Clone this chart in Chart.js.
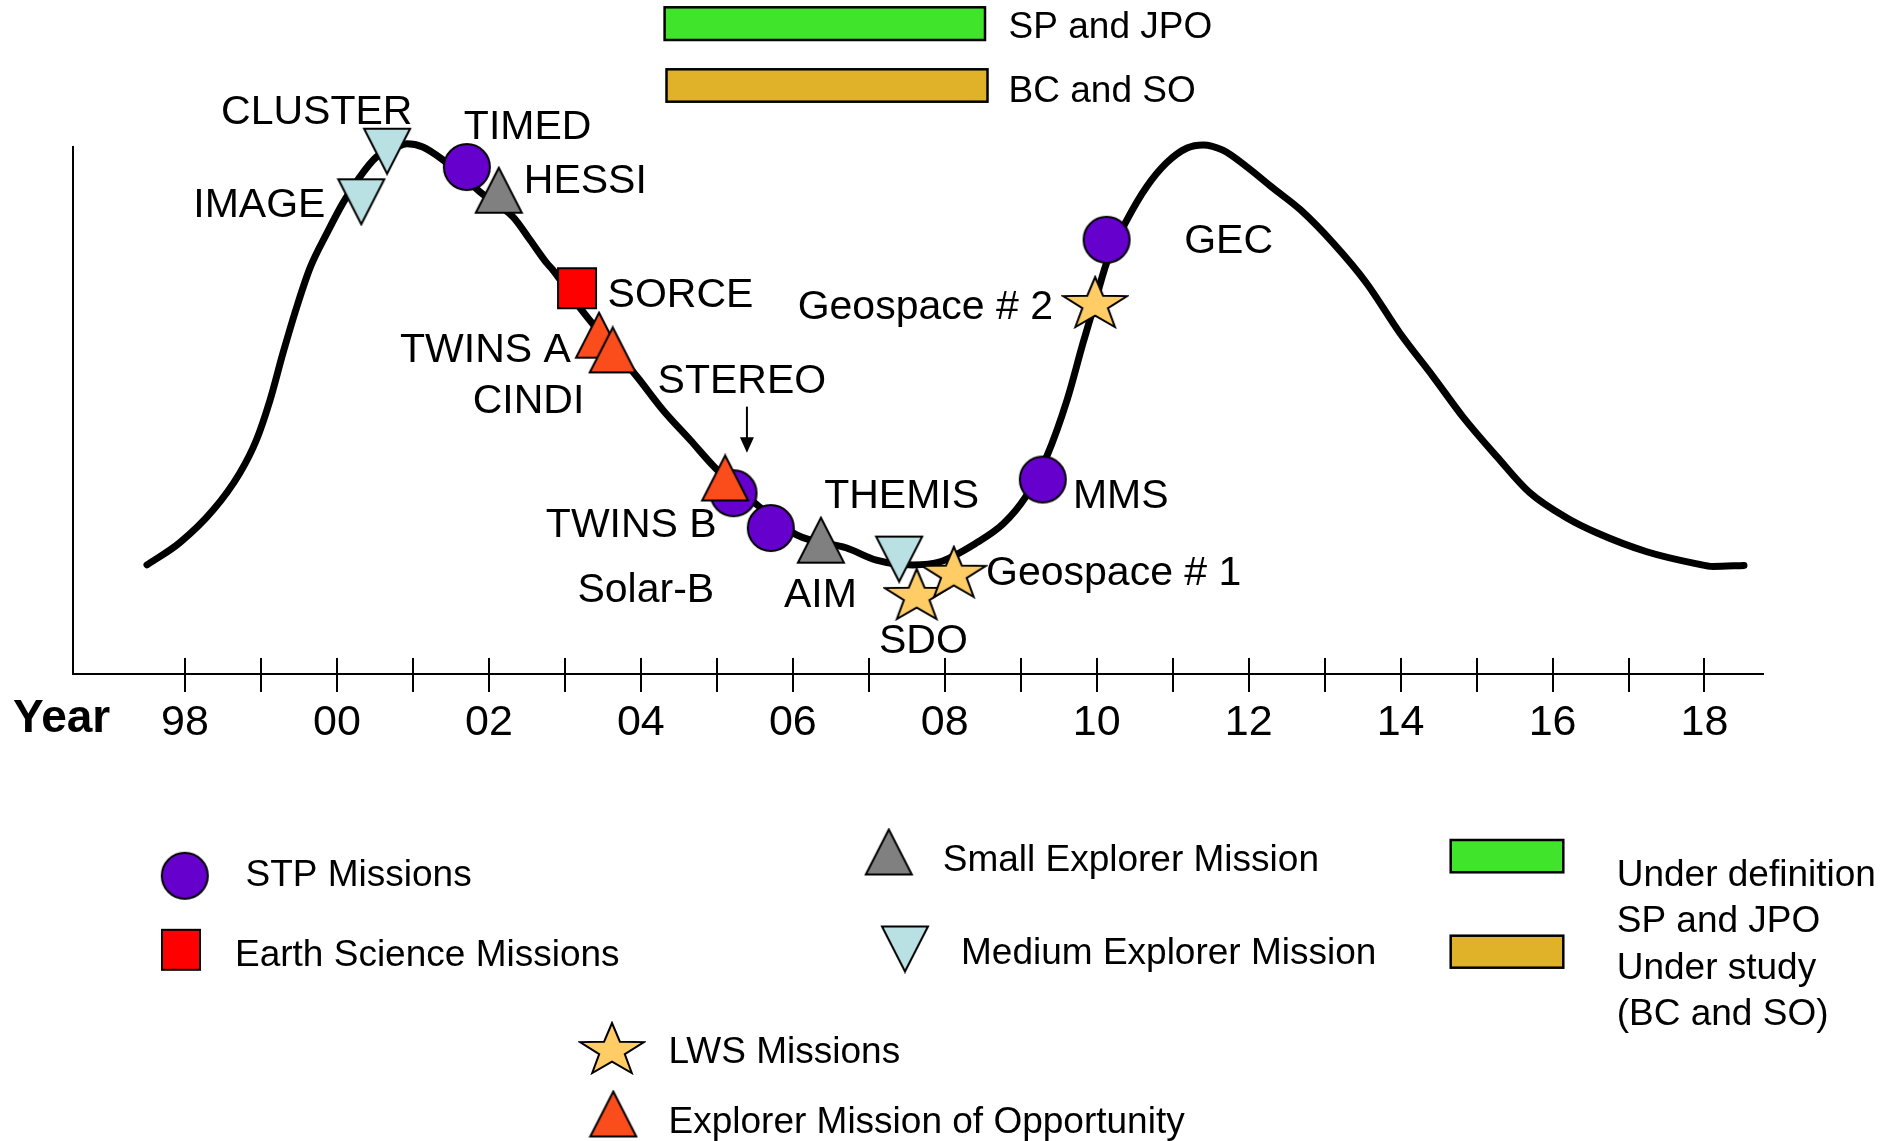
<!DOCTYPE html>
<html>
<head>
<meta charset="utf-8">
<title>Solar cycle and missions</title>
<script src="https://cdn.jsdelivr.net/npm/chart.js@4.4.1/dist/chart.umd.min.js"></script>
<style>
  html, body { margin: 0; padding: 0; background: #fff; }
  #wrap { width: 1898px; height: 1141px; }
</style>
</head>
<body>
<div id="wrap"><canvas id="CycleChart" width="1898" height="1141"></canvas></div>
<script>
// Kurva siklus matahari (tahun, aktivitas relatif 0-100)
const curveYears = [1997.50, 1997.93, 1998.37, 1998.72, 1998.94, 1999.12, 1999.29, 1999.47, 1999.65, 1999.87,
  2000.08, 2000.30, 2000.52, 2000.79, 2000.92, 2001.13, 2001.40, 2001.65, 2001.88, 2002.32,
  2002.54, 2002.76, 2002.84, 2003.24, 2003.95, 2004.29, 2004.65, 2004.98, 2005.53, 2006.05,
  2006.71, 2007.10, 2007.58, 2007.94, 2008.42, 2008.77, 2009.06, 2009.34, 2009.61, 2009.82,
  2009.95, 2010.13, 2010.40, 2010.66, 2010.92, 2011.19, 2011.40, 2011.66, 2011.97, 2012.32,
  2012.68, 2013.11, 2013.55, 2013.99, 2014.43, 2014.82, 2015.27, 2015.70, 2016.19, 2016.58,
  2017.24, 2017.90, 2018.11, 2018.52];
const curveValues = [20.7, 24.9, 31.1, 38.1, 44.4, 52.0, 60.9, 69.6, 77.2, 83.7,
  89.4, 94.3, 98.1, 100.0, 100.6, 100.0, 97.5, 94.5, 91.5, 86.7,
  82.4, 78.0, 76.7, 68.7, 56.4, 50.1, 44.4, 39.1, 32.1, 26.4,
  23.9, 21.6, 20.7, 21.3, 24.9, 28.5, 33.5, 41.2, 52.0, 62.8,
  69.1, 78.0, 86.2, 92.5, 97.0, 99.8, 100.4, 99.4, 96.3, 92.2,
  88.1, 81.8, 74.2, 64.7, 56.4, 48.8, 41.2, 34.4, 29.6, 26.8,
  23.2, 20.9, 20.4, 20.6];

// Misi per kategori
const stpNames = ['TIMED', 'STEREO', 'Solar-B', 'MMS', 'GEC'];
const stpYears = [2001.71, 2005.22, 2005.71, 2009.29, 2010.13];
const stpValues = [96.2, 34.3, 27.7, 36.9, 82.4];

const earthNames = ['SORCE'];
const earthYears = [2003.16];
const earthValues = [73.2];

const smexNames = ['HESSI', 'AIM'];
const smexYears = [2002.13, 2006.37];
const smexValues = [91.8, 25.4];

const midexNames = ['IMAGE', 'CLUSTER', 'THEMIS'];
const midexYears = [2000.32, 2000.66, 2007.40];
const midexValues = [89.6, 99.2, 21.8];

const lwsNames = ['SDO', 'Geospace # 1', 'Geospace # 2'];
const lwsYears = [2007.63, 2008.12, 2009.98];
const lwsValues = [15.2, 19.4, 70.6];

const moNames = ['TWINS A', 'CINDI', 'TWINS B'];
const moYears = [2003.45, 2003.63, 2005.11];
const moValues = [64.3, 61.5, 37.2];

// Sumbu X
const yearTicks = [1998, 1999, 2000, 2001, 2002, 2003, 2004, 2005, 2006, 2007,
  2008, 2009, 2010, 2011, 2012, 2013, 2014, 2015, 2016, 2017, 2018];
const tickLabels = ['98', '', '00', '', '02', '', '04', '', '06', '', '08',
  '', '10', '', '12', '', '14', '', '16', '', '18'];

// Teks legenda
const statusNames = ['SP and JPO', 'BC and SO'];
const legendNames = ['STP Missions', 'Earth Science Missions', 'LWS Missions',
  'Explorer Mission of Opportunity', 'Small Explorer Mission', 'Medium Explorer Mission'];
const statusNotes = ['Under definition', 'SP and JPO', 'Under study', '(BC and SO)'];

const FONT = "'Liberation Sans', Arial, Helvetica, sans-serif";
Chart.defaults.font.family = FONT;
Chart.defaults.color = '#000';

// Bentuk marker (digambar ke canvas kecil, dipakai sebagai pointStyle)
function makeMarker(shape, fill, w, h) {
  const c = document.createElement('canvas');
  c.width = w + 4;
  c.height = h + 4;
  const g = c.getContext('2d');
  const x0 = 2, y0 = 2;
  g.fillStyle = fill;
  g.strokeStyle = '#000';
  g.lineWidth = 2;
  g.beginPath();
  if (shape === 'circle') {
    g.ellipse(x0 + w / 2, y0 + h / 2, w / 2, h / 2, 0, 0, Math.PI * 2);
  } else if (shape === 'square') {
    g.rect(x0, y0, w, h);
  } else if (shape === 'up') {
    g.moveTo(x0 + w / 2, y0);
    g.lineTo(x0 + w, y0 + h);
    g.lineTo(x0, y0 + h);
    g.closePath();
  } else if (shape === 'down') {
    g.moveTo(x0, y0);
    g.lineTo(x0 + w, y0);
    g.lineTo(x0 + w / 2, y0 + h);
    g.closePath();
  } else if (shape === 'star') {
    const R = h / 1.809;
    const sx = (w / 2) / (R * 0.951);
    const cx = x0 + w / 2, cy = y0 + R;
    for (let i = 0; i < 10; i++) {
      const a = -Math.PI / 2 + i * Math.PI / 5;
      const rr = i % 2 === 0 ? R : R * 0.4;
      const px = cx + Math.cos(a) * rr * sx;
      const py = cy + Math.sin(a) * rr;
      if (i === 0) g.moveTo(px, py); else g.lineTo(px, py);
    }
    g.closePath();
  }
  g.fill();
  g.stroke();
  return c;
}

const markers = {
  stp: makeMarker('circle', '#6600cc', 46, 46),
  earth: makeMarker('square', '#ff0000', 38, 40),
  smex: makeMarker('up', '#808080', 46, 45),
  midex: makeMarker('down', '#b9e0e3', 46, 45),
  lws: makeMarker('star', '#ffcc66', 64, 50),
  mo: makeMarker('up', '#fb4c1c', 46, 45)
};

const pts = (xs, ys) => xs.map((x, i) => ({ x: x, y: ys[i] }));

function markerSet(label, names, xs, ys, marker, order) {
  return {
    type: 'scatter',
    label: label,
    names: names,
    data: pts(xs, ys),
    pointStyle: marker,
    pointRadius: 24,
    pointHoverRadius: 24,
    showLine: false,
    clip: false,
    order: order
  };
}

// Posisi teks relatif terhadap marker [dx, dy, align]
const labelPlace = {
  'CLUSTER': [-166, -27.5, 'left'],
  'IMAGE': [-168, 14.7, 'left'],
  'TIMED': [-3, -28, 'left'],
  'HESSI': [25, 3, 'left'],
  'SORCE': [30.6, 19.2, 'left'],
  'TWINS A': [-199, 26.7, 'left'],
  'CINDI': [-140, 63.3, 'left'],
  'STEREO': [-76, -100, 'left'],
  'TWINS B': [-179.3, 58.7, 'left'],
  'Solar-B': [-193.3, 73.7, 'left'],
  'AIM': [-37, 66.4, 'left'],
  'THEMIS': [-75, -51.3, 'left'],
  'SDO': [-37.7, 59.3, 'left'],
  'Geospace # 1': [32.2, 13.3, 'left'],
  'MMS': [30.2, 28.2, 'left'],
  'Geospace # 2': [-297.5, 17.3, 'left'],
  'GEC': [77.6, 13, 'left']
};

function drawBox(c, x, y, w, h, fill) {
  c.fillStyle = fill;
  c.fillRect(x, y, w, h);
  c.strokeStyle = '#000';
  c.lineWidth = 2.5;
  c.strokeRect(x, y, w, h);
}

function drawMarker(c, img, cx, cy) {
  c.drawImage(img, cx - img.width / 2, cy - img.height / 2);
}

// Plugin: label misi, panah, tick atas, legenda
const annotate = {
  id: 'annotate',
  afterDraw(chart) {
    const c = chart.ctx;
    const xs = chart.scales.x;
    const area = chart.chartArea;
    c.save();

    // bagian atas tick sumbu x
    c.strokeStyle = '#000';
    c.lineWidth = 2;
    yearTicks.forEach(v => {
      const px = Math.round(xs.getPixelForValue(v));
      c.beginPath();
      c.moveTo(px, area.bottom);
      c.lineTo(px, area.bottom - 16);
      c.stroke();
    });

    // label tiap misi
    c.fillStyle = '#000';
    c.font = '41px ' + FONT;
    c.textBaseline = 'alphabetic';
    chart.data.datasets.forEach((ds, di) => {
      if (!ds.names) return;
      const meta = chart.getDatasetMeta(di);
      ds.names.forEach((name, i) => {
        const p = meta.data[i];
        const lp = labelPlace[name];
        c.textAlign = lp[2];
        c.fillText(name, p.x + lp[0], p.y + lp[1]);
        if (name === 'STEREO') {
          const ax = p.x + 13.4;
          c.beginPath();
          c.moveTo(ax, p.y - 86.6);
          c.lineTo(ax, p.y - 54);
          c.stroke();
          c.beginPath();
          c.moveTo(ax - 7, p.y - 56);
          c.lineTo(ax + 7, p.y - 56);
          c.lineTo(ax, p.y - 40.6);
          c.closePath();
          c.fill();
        }
      });
    });

    // "Year"
    c.textAlign = 'left';
    c.font = 'bold 46px ' + FONT;
    c.fillText('Year', 13, 731.7);

    // legenda status di atas
    c.font = '37px ' + FONT;
    drawBox(c, 664.6, 7.3, 320.4, 32.7, '#40e42a');
    drawBox(c, 666.5, 69.3, 321, 32.4, '#e0b22a');
    c.fillStyle = '#000';
    c.fillText(statusNames[0], 1008.6, 37.7);
    c.fillText(statusNames[1], 1008.6, 101.7);

    // legenda bawah
    drawMarker(c, markers.stp, 184.8, 875.8);
    drawMarker(c, markers.earth, 181, 949.8);
    drawMarker(c, markers.lws, 612, 1048);
    drawMarker(c, markers.mo, 613.3, 1114);
    drawMarker(c, markers.smex, 888.8, 852);
    drawMarker(c, markers.midex, 905, 949);
    c.fillStyle = '#000';
    c.font = '37px ' + FONT;
    c.fillText(legendNames[0], 245.5, 886);
    c.fillText(legendNames[1], 235, 966);
    c.fillText(legendNames[2], 668.5, 1062.7);
    c.fillText(legendNames[3], 668.5, 1132.7);
    c.fillText(legendNames[4], 942.7, 871);
    c.fillText(legendNames[5], 961, 964.3);

    drawBox(c, 1450.7, 840, 112.6, 32.3, '#40e42a');
    drawBox(c, 1450.7, 935.7, 112.6, 32, '#e0b22a');
    c.fillStyle = '#000';
    c.font = '37px ' + FONT;
    statusNotes.forEach((t, i) => c.fillText(t, 1616.7, 885.7 + i * 46.5));

    c.restore();
  }
};

const data = {
  datasets: [
    markerSet('Explorer Mission of Opportunity', moNames, moYears, moValues, markers.mo, 0),
    markerSet('Small Explorer Mission', smexNames, smexYears, smexValues, markers.smex, 1),
    markerSet('Medium Explorer Mission', midexNames, midexYears, midexValues, markers.midex, 2),
    markerSet('LWS Missions', lwsNames, lwsYears, lwsValues, markers.lws, 3),
    markerSet('Earth Science Missions', earthNames, earthYears, earthValues, markers.earth, 4),
    markerSet('STP Missions', stpNames, stpYears, stpValues, markers.stp, 5),
    {
      type: 'line',
      label: 'Solar cycle',
      data: pts(curveYears, curveValues),
      borderColor: '#000',
      borderWidth: 7,
      borderCapStyle: 'round',
      borderJoinStyle: 'round',
      cubicInterpolationMode: 'monotone',
      pointRadius: 0,
      fill: false,
      clip: false,
      order: 6
    }
  ]
};

const config = {
  type: 'line',
  data: data,
  options: {
    responsive: false,
    animation: false,
    events: [],
    layout: {
      padding: { left: 73, right: 135, top: 147, bottom: 387 }
    },
    plugins: {
      legend: { display: false },
      tooltip: { enabled: false }
    },
    scales: {
      x: {
        type: 'linear',
        min: 1996.526,
        max: 2018.77,
        afterBuildTicks: s => { s.ticks = yearTicks.map(v => ({ value: v })); },
        afterFit: s => { s.height = 80; },
        ticks: {
          autoSkip: false,
          maxRotation: 0,
          padding: 5,
          color: '#000',
          font: { size: 43 },
          callback: (value, index) => tickLabels[index]
        },
        grid: {
          display: true,
          drawOnChartArea: false,
          drawTicks: true,
          tickLength: 18,
          tickWidth: 2,
          tickColor: '#000',
          color: '#000',
          lineWidth: 2
        },
        border: { display: true, color: '#000', width: 2 }
      },
      y: {
        min: 0,
        max: 100,
        afterFit: s => { s.width = 0; },
        ticks: { display: false },
        grid: { display: true, drawOnChartArea: false, drawTicks: false },
        border: { display: true, color: '#000', width: 2 }
      }
    }
  },
  plugins: [annotate]
};

// Buat chart
const ctx = document.getElementById('CycleChart').getContext('2d');
const myChart = new Chart(ctx, config);
</script>
</body>
</html>
